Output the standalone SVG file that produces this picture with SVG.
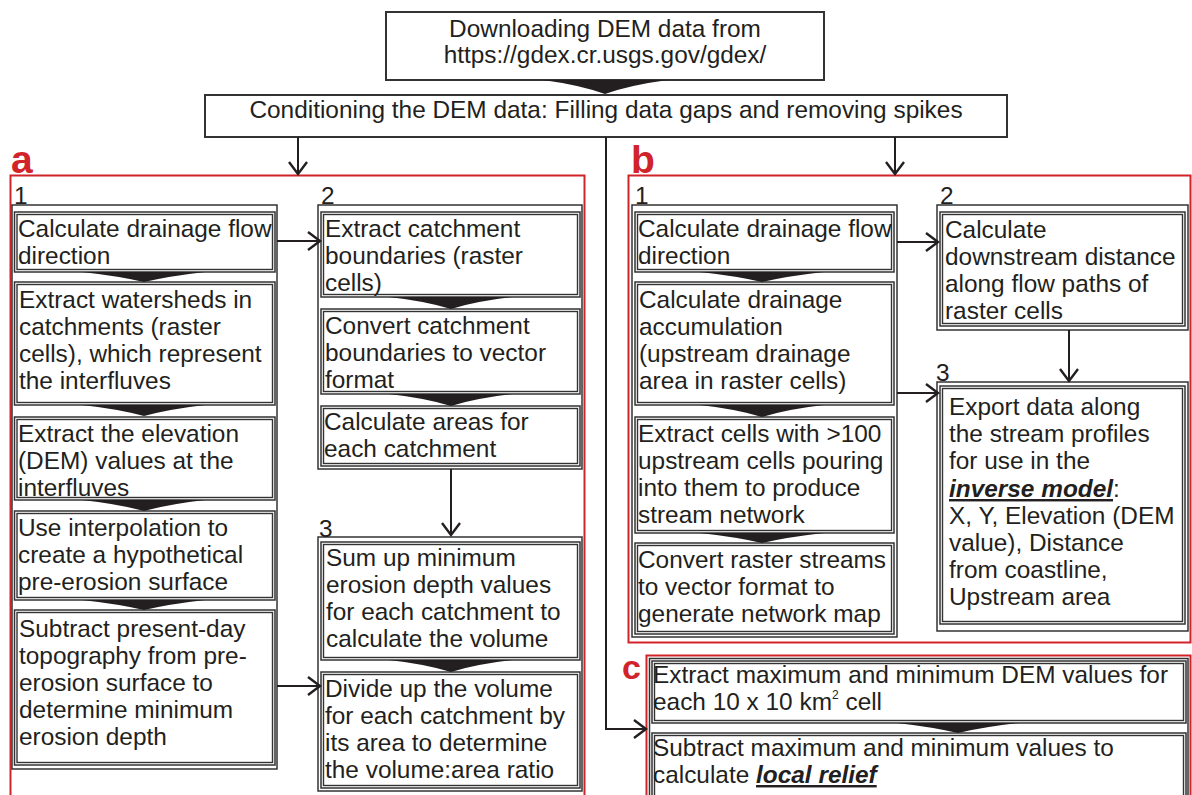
<svg xmlns="http://www.w3.org/2000/svg" width="1192" height="795" viewBox="0 0 1192 795">
<defs>
<style>
.t{font-family:"Liberation Sans",Arial,sans-serif;font-size:24.4px;fill:#231f20}
.mid{text-anchor:middle}
.lbl{font-family:"Liberation Sans",Arial,sans-serif;font-weight:bold;fill:#d1232a}
.bx{fill:#fff;stroke:#333;stroke-width:1.5}
.in{fill:none;stroke:#333;stroke-width:1.4}
.col{fill:none;stroke:#333;stroke-width:1.5}
.main{fill:#fff;stroke:#333;stroke-width:2}
.red{fill:none;stroke:#d1232a;stroke-width:2}
.wedge{fill:#231f20}
.conn{fill:none;stroke:#231f20;stroke-width:2}
.em{font-weight:bold;font-style:italic;text-decoration:underline}
</style>
<marker id="ah" viewBox="-15 -10 17 20" markerWidth="17" markerHeight="20" refX="0" refY="0" orient="auto" markerUnits="userSpaceOnUse">
<path d="M-12,-9 L0,0 L-12,9" fill="none" stroke="#231f20" stroke-width="2.4"/>
</marker>
</defs>
<rect width="1192" height="795" fill="#fff"/>

<!-- panel frames -->
<g id="panel-a-frame">
<rect class="red" x="10.5" y="175.5" width="574" height="640"/>
<text class="lbl" x="11" y="173" font-size="39">a</text>
</g>
<g id="panel-b-frame">
<rect class="red" x="628.5" y="175.5" width="562" height="467"/>
<text class="lbl" x="631" y="173" font-size="39">b</text>
</g>
<g id="panel-c-frame">
<rect class="red" x="646.5" y="655.5" width="544" height="160"/>
<text class="lbl" x="622" y="679" font-size="34">c</text>
</g>

<!-- top nodes -->
<g id="download">
<rect class="main" x="386" y="12" width="438" height="68"/>
<text class="t mid" x="605" y="37">Downloading DEM data from</text>
<text class="t mid" x="605" y="63">https://gdex.cr.usgs.gov/gdex/</text>
</g>
<g id="conditioning">
<rect class="main" x="205" y="95" width="802" height="42"/>
<text class="t mid" x="606" y="118">Conditioning the DEM data: Filling data gaps and removing spikes</text>
</g>

<!-- panel a column 1 -->
<g id="a-col1">
<rect class="col" x="12" y="205" width="265" height="564"/>
<text class="t" x="14" y="204">1</text>
</g>
<g id="a1-1">
<rect class="bx" x="14.5" y="212" width="260.5" height="60"/>
<rect class="in" x="17" y="214.5" width="255.5" height="55"/>
<text class="t" x="18" y="237">Calculate drainage flow</text>
<text class="t" x="18" y="264">direction</text>
</g>
<g id="a1-2">
<rect class="bx" x="14.5" y="282" width="260.5" height="123"/>
<rect class="in" x="17" y="284.5" width="255.5" height="118"/>
<text class="t" x="19" y="308">Extract watersheds in</text>
<text class="t" x="19" y="335">catchments (raster</text>
<text class="t" x="19" y="362">cells), which represent</text>
<text class="t" x="19" y="389">the interfluves</text>
</g>
<g id="a1-3">
<rect class="bx" x="14.5" y="417" width="260.5" height="83"/>
<rect class="in" x="17" y="419.5" width="255.5" height="78"/>
<text class="t" x="18" y="442">Extract the elevation</text>
<text class="t" x="18" y="469">(DEM) values at the</text>
<text class="t" x="18" y="496">interfluves</text>
</g>
<g id="a1-4">
<rect class="bx" x="14.5" y="511" width="260.5" height="89"/>
<rect class="in" x="17" y="513.5" width="255.5" height="84"/>
<text class="t" x="18" y="536">Use interpolation to</text>
<text class="t" x="18" y="563">create a hypothetical</text>
<text class="t" x="18" y="590">pre-erosion surface</text>
</g>
<g id="a1-5">
<rect class="bx" x="14.5" y="610" width="260.5" height="155"/>
<rect class="in" x="17" y="612.5" width="255.5" height="150"/>
<text class="t" x="19" y="637">Subtract present-day</text>
<text class="t" x="19" y="664">topography from pre-</text>
<text class="t" x="19" y="691">erosion surface to</text>
<text class="t" x="19" y="718">determine minimum</text>
<text class="t" x="19" y="745">erosion depth</text>
</g>

<!-- panel a column 2 -->
<g id="a-col2">
<rect class="col" x="318" y="205" width="264" height="264"/>
<text class="t" x="321" y="204">2</text>
</g>
<g id="a2-1">
<rect class="bx" x="321" y="212" width="259" height="85"/>
<rect class="in" x="323.5" y="214.5" width="254" height="80"/>
<text class="t" x="325" y="237">Extract catchment</text>
<text class="t" x="325" y="264">boundaries (raster</text>
<text class="t" x="325" y="291">cells)</text>
</g>
<g id="a2-2">
<rect class="bx" x="321" y="309" width="259" height="85"/>
<rect class="in" x="323.5" y="311.5" width="254" height="80"/>
<text class="t" x="325" y="334">Convert catchment</text>
<text class="t" x="325" y="361">boundaries to vector</text>
<text class="t" x="325" y="388">format</text>
</g>
<g id="a2-3">
<rect class="bx" x="321" y="406" width="259" height="60"/>
<rect class="in" x="323.5" y="408.5" width="254" height="55"/>
<text class="t" x="324" y="430">Calculate areas for</text>
<text class="t" x="324" y="457">each catchment</text>
</g>

<!-- panel a column 3 -->
<g id="a-col3">
<rect class="col" x="318" y="537" width="264" height="254"/>
<text class="t" x="319" y="537">3</text>
</g>
<g id="a3-1">
<rect class="bx" x="321" y="542" width="259" height="118"/>
<rect class="in" x="323.5" y="544.5" width="254" height="113"/>
<text class="t" x="326" y="566">Sum up minimum</text>
<text class="t" x="326" y="593">erosion depth values</text>
<text class="t" x="326" y="620">for each catchment to</text>
<text class="t" x="326" y="647">calculate the volume</text>
</g>
<g id="a3-2">
<rect class="bx" x="321" y="672" width="259" height="116"/>
<rect class="in" x="323.5" y="674.5" width="254" height="111"/>
<text class="t" x="325" y="697">Divide up the volume</text>
<text class="t" x="325" y="724">for each catchment by</text>
<text class="t" x="325" y="751">its area to determine</text>
<text class="t" x="325" y="778">the volume:area ratio</text>
</g>

<!-- panel b column 1 -->
<g id="b-col1">
<rect class="col" x="632" y="205" width="265" height="432"/>
<text class="t" x="635" y="204">1</text>
</g>
<g id="b1-1">
<rect class="bx" x="635" y="212" width="259" height="60"/>
<rect class="in" x="637.5" y="214.5" width="254" height="55"/>
<text class="t" x="638" y="237">Calculate drainage flow</text>
<text class="t" x="638" y="264">direction</text>
</g>
<g id="b1-2">
<rect class="bx" x="635" y="282" width="259" height="123"/>
<rect class="in" x="637.5" y="284.5" width="254" height="118"/>
<text class="t" x="639" y="308">Calculate drainage</text>
<text class="t" x="639" y="335">accumulation</text>
<text class="t" x="639" y="362">(upstream drainage</text>
<text class="t" x="639" y="389">area in raster cells)</text>
</g>
<g id="b1-3">
<rect class="bx" x="635" y="417" width="259" height="116"/>
<rect class="in" x="637.5" y="419.5" width="254" height="111"/>
<text class="t" x="638" y="442">Extract cells with &gt;100</text>
<text class="t" x="638" y="469">upstream cells pouring</text>
<text class="t" x="638" y="496">into them to produce</text>
<text class="t" x="638" y="523">stream network</text>
</g>
<g id="b1-4">
<rect class="bx" x="635" y="543" width="259" height="91"/>
<rect class="in" x="637.5" y="545.5" width="254" height="86"/>
<text class="t" x="638" y="568">Convert raster streams</text>
<text class="t" x="638" y="595">to vector format to</text>
<text class="t" x="638" y="622">generate network map</text>
</g>

<!-- panel b column 2 -->
<g id="b-col2">
<rect class="col" x="937" y="205" width="251" height="125"/>
<text class="t" x="940" y="204">2</text>
</g>
<g id="b2-1">
<rect class="bx" x="940" y="212" width="245" height="114"/>
<rect class="in" x="942.5" y="214.5" width="240" height="109"/>
<text class="t" x="945" y="238">Calculate</text>
<text class="t" x="945" y="265">downstream distance</text>
<text class="t" x="945" y="292">along flow paths of</text>
<text class="t" x="945" y="319">raster cells</text>
</g>

<!-- panel b column 3 -->
<g id="b-col3">
<rect class="col" x="937" y="382" width="251" height="249"/>
<text class="t" x="936" y="381">3</text>
</g>
<g id="b3-1">
<rect class="bx" x="940" y="386" width="245" height="238"/>
<rect class="in" x="942.5" y="388.5" width="240" height="233"/>
<text class="t" x="949" y="415">Export data along</text>
<text class="t" x="949" y="442">the stream profiles</text>
<text class="t" x="949" y="469">for use in the</text>
<text class="t" x="949" y="497"><tspan class="em">inverse model</tspan>:</text>
<text class="t" x="949" y="524">X, Y, Elevation (DEM</text>
<text class="t" x="949" y="551">value), Distance</text>
<text class="t" x="949" y="578">from coastline,</text>
<text class="t" x="949" y="605">Upstream area</text>
</g>

<!-- panel c -->
<g id="c-col">
<rect class="col" x="649.5" y="658.5" width="538.5" height="160"/>
</g>
<g id="c-1">
<rect class="bx" x="652" y="661" width="534" height="62"/>
<rect class="in" x="654.5" y="663.5" width="529" height="57"/>
<text class="t" x="653" y="683">Extract maximum and minimum DEM values for</text>
<text class="t" x="653" y="710">each 10 x 10 km<tspan font-size="12" dy="-11">2</tspan><tspan dy="11"> cell</tspan></text>
</g>
<g id="c-2">
<rect class="bx" x="652" y="733" width="534" height="80"/>
<rect class="in" x="654.5" y="735.5" width="529" height="75"/>
<text class="t" x="653" y="756">Subtract maximum and minimum values to</text>
<text class="t" x="653" y="783">calculate <tspan class="em">local relief</tspan></text>
</g>

<!-- connectors -->
<g id="connectors">
<path class="wedge" d="M543,80 L668,80 Q630,85 605,94 Q580,85 543,80 Z"/>
<path class="wedge" d="M82,272 L205,272 Q170,276 144,282 Q118,276 82,272 Z"/>
<path class="wedge" d="M82,405 L205,405 Q170,409 144,416 Q118,409 82,405 Z"/>
<path class="wedge" d="M82,500 L205,500 Q170,504 144,511 Q118,504 82,500 Z"/>
<path class="wedge" d="M82,600 L205,600 Q170,604 144,610 Q118,604 82,600 Z"/>
<path class="wedge" d="M389,297 L513,297 Q477,301 451,309 Q425,301 389,297 Z"/>
<path class="wedge" d="M389,394 L513,394 Q477,398 451,406 Q425,398 389,394 Z"/>
<path class="wedge" d="M389,660 L513,660 Q477,664 451,672 Q425,664 389,660 Z"/>
<path class="wedge" d="M700,272 L824,272 Q788,276 762,282 Q736,276 700,272 Z"/>
<path class="wedge" d="M700,405 L824,405 Q788,409 762,417 Q736,409 700,405 Z"/>
<path class="wedge" d="M700,533 L824,533 Q788,537 762,543 Q736,537 700,533 Z"/>
<path class="wedge" d="M897,723 L1019,723 Q984,727 958,733 Q932,727 897,723 Z"/>
<path class="conn" d="M298,137 V174" marker-end="url(#ah)"/>
<path class="conn" d="M895,137 V174" marker-end="url(#ah)"/>
<path class="conn" d="M606,137 V729 H646" marker-end="url(#ah)"/>
<path class="conn" d="M277,241 H320" marker-end="url(#ah)"/>
<path class="conn" d="M277,686 H320" marker-end="url(#ah)"/>
<path class="conn" d="M451,469 V535" marker-end="url(#ah)"/>
<path class="conn" d="M897,242 H938" marker-end="url(#ah)"/>
<path class="conn" d="M897,393 H938" marker-end="url(#ah)"/>
<path class="conn" d="M1069,330 V381" marker-end="url(#ah)"/>
</g>
</svg>
